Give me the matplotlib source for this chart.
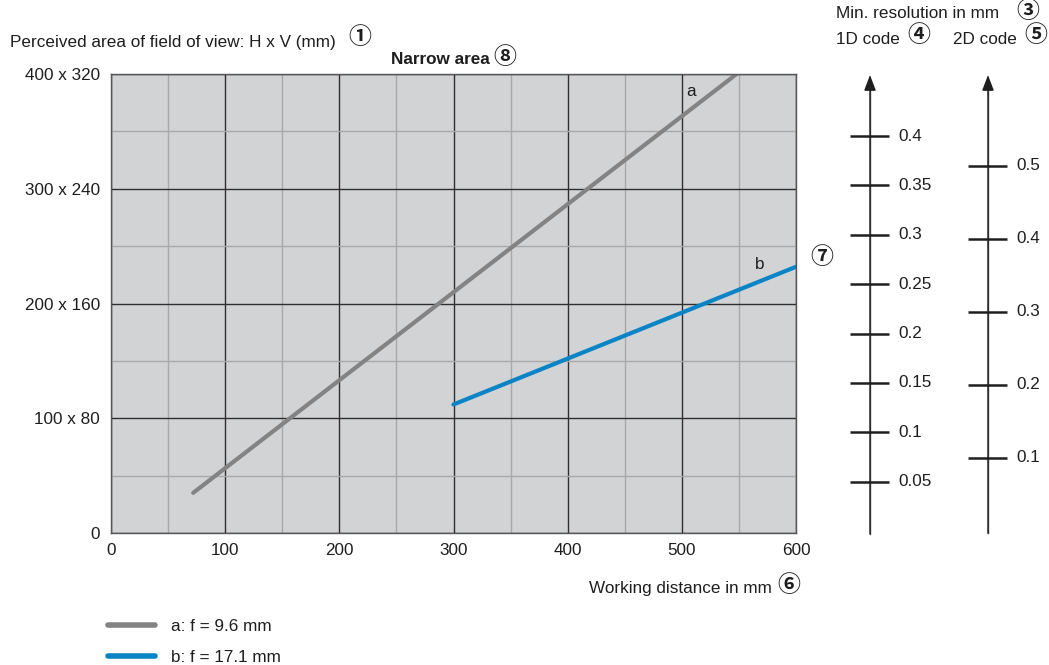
import matplotlib
matplotlib.use("Agg")
import matplotlib.pyplot as plt

W, H = 1049, 665

# field of view lines (working distance mm -> H mm)
dist_a = [72, 548]
fov_a = [35, 400]
dist_b = [300, 600]
fov_b = [112, 232]

x_ticks = [0, 100, 200, 300, 400, 500, 600]
y_ticks = [0, 100, 200, 300, 400]
y_tick_labels = ["0", "100 x 80", "200 x 160", "300 x 240", "400 x 320"]

res_1d = [0.05, 0.1, 0.15, 0.2, 0.25, 0.3, 0.35, 0.4]
res_1d_labels = ["0.05", "0.1", "0.15", "0.2", "0.25", "0.3", "0.35", "0.4"]
res_2d = [0.1, 0.2, 0.3, 0.4, 0.5]
res_2d_labels = ["0.1", "0.2", "0.3", "0.4", "0.5"]

legend_labels = ["a: f = 9.6 mm", "b: f = 17.1 mm"]

GRAY = "#838383"
BLUE = "#0a84c6"
TXT = "#1e1e1e"
FONT = "Liberation Sans"
FS = 12.3
CIRC = ["Noto Sans CJK JP", "DejaVu Sans"]

plt.rcParams["font.family"] = [FONT, "DejaVu Sans"]


def box(x0, y0, x1, y1):
    # pixel box (top-left origin) -> figure fraction rect
    return [x0 / W, 1 - y1 / H, (x1 - x0) / W, (y1 - y0) / H]


def ftext(x, y, s, **kw):
    kw.setdefault("fontsize", FS)
    kw.setdefault("color", TXT)
    kw.setdefault("va", "center")
    fig.text(x / W, 1 - y / H, s, **kw)


def circ(x, y, s, size=16.5):
    ftext(x, y, s, fontsize=size, family=CIRC, fontweight="bold",
          ha="center", va="center")


fig = plt.figure(figsize=(W / 100, H / 100), dpi=100)

# main chart
ax = fig.add_axes(box(111, 74, 796, 533))
ax.set_facecolor("#d2d3d5")
ax.set_xlim(0, 600)
ax.set_ylim(0, 400)
ax.set_xticks(x_ticks)
ax.set_xticklabels([str(v) for v in x_ticks])
ax.set_yticks(y_ticks)
ax.set_yticklabels(y_tick_labels)
ax.set_xticks(range(50, 600, 100), minor=True)
ax.set_yticks(range(50, 400, 100), minor=True)
ax.grid(which="minor", color="#a9a9a9", lw=1.0)
ax.grid(which="major", color="#2f2f2f", lw=1.0)
ax.set_axisbelow(True)
ax.tick_params(which="both", length=0, labelsize=FS, labelcolor=TXT)
ax.tick_params(axis="y", pad=8)
ax.tick_params(axis="x", pad=7)
for sp in ax.spines.values():
    sp.set_color("#555555")
    sp.set_linewidth(1.0)

la, = ax.plot(dist_a, fov_a, color=GRAY, lw=3.0, solid_capstyle="round")
lb, = ax.plot(dist_b, fov_b, color=BLUE, lw=3.0, solid_capstyle="round")
ax.text(508, 385, "a", fontsize=FS, color=TXT, ha="center", va="center")
ax.text(568, 234, "b", fontsize=FS, color=TXT, ha="center", va="center")

# resolution scales
def res_scale(xc, ticks, labels, top):
    a = fig.add_axes(box(xc - 40, 75, xc + 40, 531))
    a.set_xlim(-40, 40)
    a.set_ylim(0, top)
    a.axis("off")
    a.annotate("", xy=(0, top), xytext=(0, -0.003), xycoords="data",
               arrowprops=dict(arrowstyle="-|>,head_length=0.95,head_width=0.36",
                               mutation_scale=10, color="#1e1e1e", lw=1.0,
                               shrinkA=0, shrinkB=0),
               annotation_clip=False)
    a.plot([0, 0], [-0.003, top * 0.97], color="#555555", lw=1.0, clip_on=False)
    a.hlines(ticks, -20, 19, color="#1e1e1e", lw=1.8)
    for v, s in zip(ticks, labels):
        a.text(28, v, s, fontsize=FS, color=TXT, va="center", ha="left", clip_on=False)
    return a


res_scale(870, res_1d, res_1d_labels, 0.4618)
res_scale(988, res_2d, res_2d_labels, 0.624)

# texts
ftext(10, 42, "Perceived area of field of view: H x V (mm)")
circ(360, 38, "\u2460")
ftext(440, 60, "Narrow area", fontweight="bold", ha="center")
circ(505, 58, "\u2467")
ftext(836, 14, "Min. resolution in mm")
circ(1028, 12, "\u2462")
ftext(836, 39, "1D code")
circ(919, 36, "\u2463")
ftext(953, 39, "2D code")
circ(1036, 36, "\u2464")
circ(822, 257, "\u2466")
ftext(772, 588, "Working distance in mm", ha="right")
circ(789, 586, "\u2465")

fig.legend([la, lb], legend_labels, loc="upper left",
           bbox_to_anchor=(108 / W, 1 - 619 / H), frameon=False,
           fontsize=FS, handlelength=2.75, handletextpad=0.95,
           labelspacing=0.95, borderpad=0, borderaxespad=0,
           labelcolor=TXT)
for h in fig.legends[0].legend_handles:
    h.set_linewidth(4.0)

fig.savefig("out.png", dpi=100)
